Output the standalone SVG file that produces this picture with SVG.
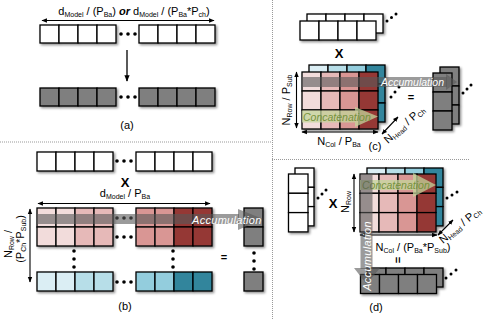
<svg xmlns="http://www.w3.org/2000/svg" width="484" height="320" viewBox="0 0 484 320">
<defs>
<filter id="sh" x="-20%" y="-20%" width="150%" height="150%"><feDropShadow dx="1.5" dy="1.5" stdDeviation="1" flood-color="#000" flood-opacity="0.45"/></filter>
<marker id="ah" viewBox="0 0 10 10" refX="9" refY="5" markerWidth="5" markerHeight="5" orient="auto-start-reverse"><path d="M0,1 L10,5 L0,9 Z" fill="#000"/></marker>
</defs>
<style>
.c{stroke:#000;stroke-width:1.3}
.w{fill:#fff}
.g{fill:#7f7f7f}
.p1{fill:#f2dcdb}.p2{fill:#e6b9b8}.p3{fill:#d99694}.p4{fill:#953735}
.b1{fill:#dbeef4}.b2{fill:#b7dee8}.b3{fill:#93cddd}.b4{fill:#31859c}
.t{font-family:"Liberation Sans",Arial,sans-serif;font-size:11px;fill:#000}
.x{font-family:"Liberation Sans",Arial,sans-serif;font-size:13px;font-weight:bold;fill:#000}
.acc{font-family:"Liberation Sans",Arial,sans-serif;font-size:11px;font-style:italic;fill:#fff;letter-spacing:0.3px}
.acc2{font-family:"Liberation Sans",Arial,sans-serif;font-size:10.5px;font-style:italic;fill:#fff}
.con{font-family:"Liberation Sans",Arial,sans-serif;font-size:10.5px;font-style:italic;fill:#76923c}
.ax{stroke:#000;stroke-width:1.1;fill:none;marker-start:url(#ah);marker-end:url(#ah)}
.dot{fill:#000}
.dl{stroke:#999;stroke-width:1;stroke-dasharray:1,1;fill:none}
.band{fill:#595959;fill-opacity:0.6}
.gband{fill:#c3d69b;fill-opacity:0.75}
</style>

<g id="separators">
<line class="dl" x1="0" y1="142" x2="272" y2="142"/>
<line class="dl" x1="272.5" y1="0" x2="272.5" y2="320"/>
<line class="dl" x1="272" y1="159.5" x2="470" y2="159.5"/>
</g>

<!-- Panel (a) -->
<g id="a-input" filter="url(#sh)">
<rect class="c w" x="40" y="25" width="19" height="18"/><rect class="c w" x="59" y="25" width="19" height="18"/><rect class="c w" x="78" y="25" width="19" height="18"/><rect class="c w" x="97" y="25" width="19" height="18"/>
<rect class="c w" x="139" y="25" width="19" height="18"/><rect class="c w" x="158" y="25" width="19" height="18"/><rect class="c w" x="177" y="25" width="19" height="18"/><rect class="c w" x="196" y="25" width="19" height="18"/>
</g>
<g id="a-input-dots"><circle class="dot" cx="121" cy="34" r="1.8"/><circle class="dot" cx="128" cy="34" r="1.8"/><circle class="dot" cx="135" cy="34" r="1.8"/></g>
<g id="a-output" filter="url(#sh)">
<rect class="c g" x="40" y="88" width="19" height="18"/><rect class="c g" x="59" y="88" width="19" height="18"/><rect class="c g" x="78" y="88" width="19" height="18"/><rect class="c g" x="97" y="88" width="19" height="18"/>
<rect class="c g" x="139" y="88" width="19" height="18"/><rect class="c g" x="158" y="88" width="19" height="18"/><rect class="c g" x="177" y="88" width="19" height="18"/><rect class="c g" x="196" y="88" width="19" height="18"/>
</g>
<g id="a-output-dots"><circle class="dot" cx="121" cy="97" r="1.8"/><circle class="dot" cx="128" cy="97" r="1.8"/><circle class="dot" cx="135" cy="97" r="1.8"/></g>
<g id="a-label">
<text class="t" x="134" y="15" text-anchor="middle">d<tspan font-size="7" dy="2">Model</tspan><tspan dy="-2"> / (P</tspan><tspan font-size="7" dy="2">Ba</tspan><tspan dy="-2">) </tspan><tspan font-weight="bold" font-style="italic">or</tspan> d<tspan font-size="7" dy="2">Model</tspan><tspan dy="-2"> / (P</tspan><tspan font-size="7" dy="2">Ba</tspan><tspan dy="-2">*P</tspan><tspan font-size="7" dy="2">ch</tspan><tspan dy="-2">)</tspan></text>
<text class="t" x="127" y="129" text-anchor="middle" font-size="9">(a)</text>
</g>

<!-- Panel (b) -->
<g id="b-input" filter="url(#sh)">
<rect class="c w" x="37" y="152" width="19" height="19"/><rect class="c w" x="56" y="152" width="19" height="19"/><rect class="c w" x="75" y="152" width="19" height="19"/><rect class="c w" x="94" y="152" width="19" height="19"/>
<rect class="c w" x="136" y="152" width="19" height="19"/><rect class="c w" x="155" y="152" width="19" height="19"/><rect class="c w" x="174" y="152" width="19" height="19"/><rect class="c w" x="193" y="152" width="19" height="19"/>
</g>
<g id="b-red" filter="url(#sh)">
<rect class="c p1" x="37" y="208" width="19" height="19"/><rect class="c p1" x="56" y="208" width="19" height="19"/><rect class="c p2" x="75" y="208" width="19" height="19"/><rect class="c p2" x="94" y="208" width="19" height="19"/>
<rect class="c p1" x="37" y="227" width="19" height="19"/><rect class="c p1" x="56" y="227" width="19" height="19"/><rect class="c p2" x="75" y="227" width="19" height="19"/><rect class="c p2" x="94" y="227" width="19" height="19"/>
<rect class="c p3" x="136" y="208" width="19" height="19"/><rect class="c p3" x="155" y="208" width="19" height="19"/><rect class="c p4" x="174" y="208" width="19" height="19"/><rect class="c p4" x="193" y="208" width="19" height="19"/>
<rect class="c p3" x="136" y="227" width="19" height="19"/><rect class="c p3" x="155" y="227" width="19" height="19"/><rect class="c p4" x="174" y="227" width="19" height="19"/><rect class="c p4" x="193" y="227" width="19" height="19"/>
</g>
<g id="b-blue" filter="url(#sh)">
<rect class="c b1" x="37" y="272" width="19" height="19"/><rect class="c b1" x="56" y="272" width="19" height="19"/><rect class="c b2" x="75" y="272" width="19" height="19"/><rect class="c b2" x="94" y="272" width="19" height="19"/>
<rect class="c b3" x="136" y="272" width="19" height="19"/><rect class="c b3" x="155" y="272" width="19" height="19"/><rect class="c b4" x="174" y="272" width="19" height="19"/><rect class="c b4" x="193" y="272" width="19" height="19"/>
</g>
<g id="b-result" filter="url(#sh)">
<rect class="c g" x="244" y="208" width="19" height="19"/><rect class="c g" x="244" y="227" width="19" height="19"/>
<rect class="c g" x="244" y="272" width="19" height="19"/>
</g>
<g id="b-dots">
<circle class="dot" cx="117" cy="161" r="1.8"/><circle class="dot" cx="124" cy="161" r="1.8"/><circle class="dot" cx="131" cy="161" r="1.8"/>
<circle class="dot" cx="117" cy="218" r="1.8"/><circle class="dot" cx="124" cy="218" r="1.8"/><circle class="dot" cx="131" cy="218" r="1.8"/>
<circle class="dot" cx="117" cy="237" r="1.8"/><circle class="dot" cx="124" cy="237" r="1.8"/><circle class="dot" cx="131" cy="237" r="1.8"/>
<circle class="dot" cx="117" cy="282" r="1.8"/><circle class="dot" cx="124" cy="282" r="1.8"/><circle class="dot" cx="131" cy="282" r="1.8"/>
<circle class="dot" cx="74" cy="251" r="1.8"/><circle class="dot" cx="74" cy="259" r="1.8"/><circle class="dot" cx="74" cy="267" r="1.8"/>
<circle class="dot" cx="173" cy="251" r="1.8"/><circle class="dot" cx="173" cy="259" r="1.8"/><circle class="dot" cx="173" cy="267" r="1.8"/>
<circle class="dot" cx="254" cy="253" r="1.8"/><circle class="dot" cx="254" cy="261" r="1.8"/><circle class="dot" cx="254" cy="269" r="1.8"/>
</g>
<g id="b-accumulation">
<rect class="band" x="37" y="214" width="202" height="10"/>
<polygon class="band" points="238,209 263,219 238,230"/>
<text class="acc" x="192" y="223.5">Accumulation</text>
</g>
<g id="b-labels">
<text class="x" x="125" y="187" text-anchor="middle">X</text>
<text class="t" x="125" y="197" text-anchor="middle">d<tspan font-size="7" dy="2">Model</tspan><tspan dy="-2"> / P</tspan><tspan font-size="7" dy="2">Ba</tspan></text>
<text class="t" x="224" y="261" text-anchor="middle" font-weight="bold">=</text>
<text class="t" transform="translate(12,244) rotate(-90)" text-anchor="middle">N<tspan font-size="7" dy="2">Row</tspan><tspan dy="-2"> /</tspan></text>
<text class="t" transform="translate(24,239) rotate(-90)" text-anchor="middle">(P<tspan font-size="7" dy="2">Ch</tspan><tspan dy="-2">*P</tspan><tspan font-size="7" dy="2">Sub</tspan><tspan dy="-2">)</tspan></text>
<text class="t" x="125" y="310" text-anchor="middle" font-size="9">(b)</text>
</g>
<g id="connectors">
<line class="ax" x1="42" y1="20.5" x2="214" y2="20.5"/>
<line stroke="#000" stroke-width="1.3" x1="127" y1="50" x2="127" y2="81" marker-end="url(#ah)"/>
<line class="ax" x1="38" y1="203.5" x2="210" y2="203.5"/>
<line class="ax" x1="30" y1="209" x2="30" y2="282"/>
<line class="ax" x1="296.5" y1="72" x2="296.5" y2="128"/>
<line class="ax" x1="302" y1="132" x2="378" y2="132"/>
<line class="ax" x1="382" y1="134" x2="398" y2="117"/>
<line class="ax" x1="354" y1="174" x2="354" y2="232"/>
<line class="ax" x1="360" y1="235" x2="437" y2="235"/>
<line class="ax" x1="438" y1="235" x2="453" y2="220"/>
</g>

<!-- Panel (c) -->
<g id="c-input" filter="url(#sh)">
<rect class="c w" x="307" y="14" width="19" height="19"/><rect class="c w" x="326" y="14" width="19" height="19"/><rect class="c w" x="345" y="14" width="19" height="19"/><rect class="c w" x="364" y="14" width="19" height="19"/>
<rect class="c w" x="300" y="21" width="19" height="19"/><rect class="c w" x="319" y="21" width="19" height="19"/><rect class="c w" x="338" y="21" width="19" height="19"/><rect class="c w" x="357" y="21" width="19" height="19"/>
</g>
<g id="c-input-dots"><circle class="dot" cx="387" cy="21" r="1.5"/><circle class="dot" cx="391.5" cy="17.5" r="1.5"/><circle class="dot" cx="396" cy="14" r="1.5"/></g>
<g id="c-matrix" filter="url(#sh)">
<rect class="c b1" x="309" y="65" width="19" height="19"/><rect class="c b2" x="328" y="65" width="19" height="19"/><rect class="c b3" x="347" y="65" width="19" height="19"/><rect class="c b4" x="366" y="65" width="19" height="19"/>
<rect class="c b4" x="366" y="84" width="19" height="19"/><rect class="c b4" x="366" y="103" width="19" height="19"/>
<rect class="c p1" x="302" y="72" width="19" height="19"/><rect class="c p2" x="321" y="72" width="19" height="19"/><rect class="c p3" x="340" y="72" width="19" height="19"/><rect class="c p4" x="359" y="72" width="19" height="19"/>
<rect class="c p1" x="302" y="91" width="19" height="19"/><rect class="c p2" x="321" y="91" width="19" height="19"/><rect class="c p3" x="340" y="91" width="19" height="19"/><rect class="c p4" x="359" y="91" width="19" height="19"/>
<rect class="c p1" x="302" y="110" width="19" height="19"/><rect class="c p2" x="321" y="110" width="19" height="19"/><rect class="c p3" x="340" y="110" width="19" height="19"/><rect class="c p4" x="359" y="110" width="19" height="19"/>
</g>
<g id="c-matrix-dots"><circle class="dot" cx="391" cy="97" r="1.5"/><circle class="dot" cx="395" cy="92" r="1.5"/><circle class="dot" cx="399" cy="87" r="1.5"/></g>
<g id="c-result" filter="url(#sh)">
<rect class="c g" x="440" y="67" width="19" height="19"/><rect class="c g" x="440" y="86" width="19" height="19"/><rect class="c g" x="440" y="105" width="19" height="19"/>
<rect class="c g" x="433" y="73" width="19" height="19"/><rect class="c g" x="433" y="92" width="19" height="19"/><rect class="c g" x="433" y="111" width="19" height="19"/>
</g>
<g id="c-result-dots"><circle class="dot" cx="463" cy="93" r="1.5"/><circle class="dot" cx="467" cy="89" r="1.5"/><circle class="dot" cx="471" cy="85" r="1.5"/></g>
<g id="c-accumulation">
<rect class="band" x="302" y="77" width="145" height="10"/>
<polygon class="band" points="446,74 457,82 446,90"/>
<text class="acc2" x="381" y="86">Accumulation</text>
</g>
<g id="c-concatenation">
<rect class="gband" x="302" y="110.5" width="53" height="12"/>
<polygon class="gband" points="355,107 378,116.5 355,127"/>
<text class="con" x="303" y="120.5">Concatenation</text>
</g>
<g id="c-labels">
<text class="x" x="339" y="58" text-anchor="middle">X</text>
<text class="t" x="411" y="101" text-anchor="middle" font-weight="bold">=</text>
<text class="t" transform="translate(290,100) rotate(-90)" text-anchor="middle">N<tspan font-size="7" dy="2">Row</tspan><tspan dy="-2"> / P</tspan><tspan font-size="7" dy="2">Sub</tspan></text>
<text class="t" x="339" y="145" text-anchor="middle">N<tspan font-size="7" dy="2">Col</tspan><tspan dy="-2"> / P</tspan><tspan font-size="7" dy="2">Ba</tspan></text>
<text class="t" transform="translate(388,144) rotate(-42)">N<tspan font-size="7" dy="2">Head</tspan><tspan dy="-2"> / P</tspan><tspan font-size="7" dy="2">Ch</tspan></text>
<text class="t" x="375" y="150" text-anchor="middle" font-size="9">(c)</text>
</g>

<!-- Panel (d) -->
<g id="d-input" filter="url(#sh)">
<rect class="c w" x="295" y="168" width="19" height="19.3"/><rect class="c w" x="295" y="187.3" width="19" height="19.3"/><rect class="c w" x="295" y="206.6" width="19" height="19.3"/>
<rect class="c w" x="288.5" y="174" width="19.5" height="19.3"/><rect class="c w" x="288.5" y="193.3" width="19.5" height="19.3"/><rect class="c w" x="288.5" y="212.6" width="19.5" height="19.3"/>
</g>
<g id="d-input-dots"><circle class="dot" cx="318" cy="198" r="1.5"/><circle class="dot" cx="322" cy="194" r="1.5"/><circle class="dot" cx="326" cy="190" r="1.5"/></g>
<g id="d-matrix" filter="url(#sh)">
<rect class="c b1" x="367" y="168" width="19" height="19.3"/><rect class="c b2" x="386" y="168" width="19" height="19.3"/><rect class="c b3" x="405" y="168" width="19" height="19.3"/><rect class="c b4" x="424" y="168" width="19" height="19.3"/>
<rect class="c b4" x="424" y="187.3" width="19" height="19.3"/><rect class="c b4" x="424" y="206.6" width="19" height="19.3"/>
<rect class="c p1" x="360" y="174" width="19" height="19.3"/><rect class="c p2" x="379" y="174" width="19" height="19.3"/><rect class="c p3" x="398" y="174" width="19" height="19.3"/><rect class="c p4" x="417" y="174" width="19" height="19.3"/>
<rect class="c p1" x="360" y="193.3" width="19" height="19.3"/><rect class="c p2" x="379" y="193.3" width="19" height="19.3"/><rect class="c p3" x="398" y="193.3" width="19" height="19.3"/><rect class="c p4" x="417" y="193.3" width="19" height="19.3"/>
<rect class="c p1" x="360" y="212.6" width="19" height="19.3"/><rect class="c p2" x="379" y="212.6" width="19" height="19.3"/><rect class="c p3" x="398" y="212.6" width="19" height="19.3"/><rect class="c p4" x="417" y="212.6" width="19" height="19.3"/>
</g>
<g id="d-matrix-dots"><circle class="dot" cx="447" cy="198" r="1.5"/><circle class="dot" cx="452" cy="195" r="1.5"/><circle class="dot" cx="457" cy="192" r="1.5"/></g>
<g id="d-result" filter="url(#sh)">
<rect class="c g" x="367" y="268" width="19" height="19"/><rect class="c g" x="386" y="268" width="19" height="19"/><rect class="c g" x="405" y="268" width="19" height="19"/><rect class="c g" x="424" y="268" width="19" height="19"/>
<rect class="c g" x="360.5" y="274.5" width="19" height="19"/><rect class="c g" x="379.5" y="274.5" width="19" height="19"/><rect class="c g" x="398.5" y="274.5" width="19" height="19"/><rect class="c g" x="417.5" y="274.5" width="19" height="19"/>
</g>
<g id="d-result-dots"><circle class="dot" cx="446" cy="278" r="1.5"/><circle class="dot" cx="451" cy="274" r="1.5"/><circle class="dot" cx="456" cy="270" r="1.5"/></g>
<g id="d-concatenation">
<rect class="gband" x="360" y="180" width="54" height="10"/>
<polygon class="gband" points="413,173 436,185 413,197"/>
<text class="con" x="362" y="189">Concatenation</text>
</g>
<g id="d-accumulation">
<rect class="band" x="360.5" y="174" width="12" height="95"/>
<polygon class="band" points="354,268 366.5,284 380,268"/>
<text class="acc" transform="translate(370.5,256) rotate(-90)" text-anchor="middle">Accumulation</text>
</g>
<g id="d-labels">
<text class="x" x="333" y="208" text-anchor="middle">X</text>
<text class="t" transform="translate(397,260) rotate(90)" text-anchor="middle" font-weight="bold" dy="3.5">=</text>
<text class="t" transform="translate(349,202) rotate(-90)" text-anchor="middle">N<tspan font-size="7" dy="2">Row</tspan></text>
<text class="t" x="413" y="251" text-anchor="middle">N<tspan font-size="7" dy="2">Col</tspan><tspan dy="-2"> / (P</tspan><tspan font-size="7" dy="2">Ba</tspan><tspan dy="-2">*P</tspan><tspan font-size="7" dy="2">Sub</tspan><tspan dy="-2">)</tspan></text>
<text class="t" transform="translate(443,244) rotate(-40)">N<tspan font-size="7" dy="2">Head</tspan><tspan dy="-2"> / P</tspan><tspan font-size="7" dy="2">Ch</tspan></text>
<text class="t" x="376" y="311" text-anchor="middle" font-size="9">(d)</text>
</g>
</svg>
